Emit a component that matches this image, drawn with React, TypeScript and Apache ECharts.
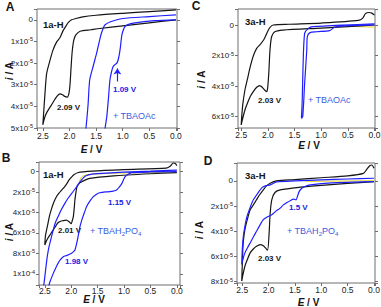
import React, { useEffect, useRef } from "react";
import * as echarts from "echarts";

const FONT = "'Liberation Sans', Arial, Helvetica, sans-serif";

// Potential E (V) vs current in units of 1e-5 A (cathodic current positive, drawn downward)
const aBlack: number[][] = [
  [0, -0.46], [0.5, -0.38], [1.0, -0.3], [1.5, -0.21], [1.75, -0.14], [1.88, -0.06], [1.96, 0.0],
  [2.02, 0.12], [2.07, 0.3], [2.12, 0.5], [2.18, 0.83], [2.24, 1.02], [2.31, 1.4], [2.38, 2.0],
  [2.43, 2.5], [2.46, 3.4], [2.485, 4.3], [2.5, 4.85], [2.47, 4.55], [2.43, 4.3], [2.34, 3.94],
  [2.24, 3.55], [2.18, 3.42], [2.13, 3.46], [2.09, 3.54], [2.04, 3.57], [2.01, 3.4], [1.99, 3.0],
  [1.97, 2.2], [1.95, 1.5], [1.92, 0.95], [1.88, 0.7], [1.8, 0.53], [1.6, 0.46], [1.43, 0.4],
  [1.0, 0.28], [0.5, 0.14], [0, 0.0],
];
const aBlue: number[][] = [
  [0, 0.0], [0.4, 0.04], [0.8, 0.15], [0.9, 0.22], [0.96, 0.31], [1.0, 0.55], [1.02, 0.77],
  [1.05, 1.39], [1.08, 1.8], [1.11, 2.0], [1.15, 2.08], [1.18, 2.16], [1.21, 2.4], [1.24, 2.78],
  [1.27, 3.7], [1.3, 4.5], [1.33, 5.0], [1.35, 6.0],
  [1.74, 6.0], [1.69, 5.0], [1.65, 3.9], [1.62, 2.78], [1.55, 2.1], [1.49, 1.54], [1.43, 0.9],
  [1.4, 0.62], [1.36, 0.35], [1.33, 0.23], [1.24, 0.1], [1.0, -0.06], [0.5, -0.15], [0, -0.23],
];
const aArrow: number[][] = [[1.1, 2.85], [1.1, 2.25]];

const bBlack: number[][] = [
  [0, -0.6], [0.03, -0.8], [0.07, -0.85], [0.12, -0.55], [0.2, -0.35], [1.0, -0.2], [1.6, -0.05],
  [1.88, 0.1], [1.95, 0.3], [1.99, 0.5], [2.04, 0.8], [2.08, 1.14], [2.13, 1.5], [2.18, 1.8],
  [2.23, 2.1], [2.28, 2.45], [2.33, 3.0], [2.37, 3.59], [2.41, 4.3], [2.44, 5.06], [2.47, 5.8],
  [2.49, 6.37], [2.5, 7.19], [2.47, 6.8], [2.44, 6.5], [2.39, 6.1], [2.34, 5.7], [2.29, 5.3],
  [2.25, 5.0], [2.2, 4.85], [2.16, 4.8], [2.09, 4.74], [2.04, 4.9], [2.0, 5.1], [1.98, 4.8],
  [1.96, 4.4], [1.94, 3.4], [1.93, 2.77], [1.89, 1.47], [1.84, 1.1], [1.8, 0.98], [1.65, 0.65],
  [1.2, 0.4], [0.5, 0.2], [0, 0.1],
];
const bBlue: number[][] = [
  [0, -0.16], [0.5, -0.05], [1.0, 0.05], [1.5, 0.18], [1.61, 0.23], [1.72, 0.4], [1.77, 0.6],
  [1.83, 0.98], [1.9, 1.5], [1.99, 2.12], [2.06, 2.6], [2.12, 3.1], [2.19, 3.75], [2.25, 4.41],
  [2.3, 5.0], [2.34, 5.7], [2.38, 6.5], [2.42, 7.35], [2.45, 8.2], [2.47, 8.98], [2.5, 10.3],
  [2.53, 11.6], [2.45, 11.6], [2.41, 10.9], [2.34, 9.96], [2.3, 9.5], [2.25, 8.98], [2.2, 8.6],
  [2.15, 8.33], [2.08, 8.2], [2.02, 8.07], [1.97, 7.9], [1.93, 7.68], [1.9, 7.1], [1.87, 6.37],
  [1.84, 5.5], [1.8, 4.74], [1.75, 4.0], [1.71, 3.43], [1.65, 2.9], [1.58, 2.45], [1.52, 2.2],
  [1.46, 2.06], [1.35, 1.98], [1.27, 1.96], [1.2, 1.9], [1.14, 1.8], [1.09, 1.5], [1.04, 1.14],
  [0.98, 0.49], [0.92, 0.25], [0.86, 0.1], [0.5, 0.03], [0, 0.0],
];
const bYellow: number[][] = [[1.85, 1.0], [1.8, 0.5], [1.7, 0.3], [1.2, 0.15], [0.6, 0.1], [0, 0.05]];

const cBlack: number[][] = [
  [0, -0.65], [0.05, -0.78], [0.1, -0.82], [0.17, -0.75], [0.22, -0.45], [0.3, -0.3], [1.0, -0.13],
  [1.6, -0.05], [1.9, 0.0], [1.96, 0.15], [1.99, 0.33], [2.04, 0.7], [2.08, 0.98], [2.15, 1.3],
  [2.21, 1.53], [2.27, 2.0], [2.33, 2.73], [2.38, 3.5], [2.43, 4.26], [2.47, 5.2], [2.49, 6.0],
  [2.5, 6.55], [2.47, 6.1], [2.43, 5.57], [2.38, 5.1], [2.33, 4.69], [2.27, 4.35], [2.21, 4.08],
  [2.15, 3.97], [2.1, 4.1], [2.06, 4.26], [2.02, 4.37], [2.0, 4.0], [1.98, 3.0], [1.96, 1.64],
  [1.93, 0.77], [1.87, 0.44], [1.72, 0.33], [1.0, 0.2], [0.5, 0.1], [0, 0.0],
];
const cBlue: number[][] = [
  [0, -0.07], [0.6, 0.0], [1.15, 0.11], [1.24, 0.22], [1.31, 0.55], [1.34, 2.73], [1.355, 4.91],
  [1.37, 6.11], [1.345, 6.0], [1.31, 3.82], [1.27, 1.64], [1.26, 0.77], [1.21, 0.5], [1.09, 0.44],
  [0.84, 0.37], [0.75, 0.15], [0.6, 0.07], [0, 0.0],
];
const cYellow: number[][] = [[0.78, 0.1], [0.4, 0.1], [0, 0.14]];

const dBlack: number[][] = [
  [0, -1.0], [0.04, -1.26], [0.08, -1.2], [0.14, -0.9], [0.2, -0.6], [0.5, -0.4], [1.0, -0.25],
  [1.5, -0.1], [1.85, 0.0], [1.97, 0.18], [2.04, 0.4], [2.1, 0.71], [2.17, 1.1], [2.23, 1.5],
  [2.29, 1.9], [2.35, 2.29], [2.4, 3.0], [2.45, 3.87], [2.48, 4.8], [2.49, 5.45], [2.5, 6.7],
  [2.51, 7.95], [2.48, 7.3], [2.45, 6.77], [2.4, 6.2], [2.35, 5.71], [2.29, 5.4], [2.23, 5.19],
  [2.16, 5.06], [2.1, 5.15], [2.06, 5.32], [2.02, 5.5], [1.99, 4.13], [1.97, 2.55], [1.94, 1.5],
  [1.88, 0.92], [1.78, 0.71], [1.4, 0.5], [1.0, 0.35], [0.5, 0.2], [0, 0.05],
];
const dBlue: number[][] = [
  [0, -0.21], [0.5, -0.15], [1.0, -0.08], [1.5, 0.0], [1.85, 0.08], [1.97, 0.32], [2.06, 0.4],
  [2.13, 0.55], [2.2, 0.95], [2.29, 1.5], [2.35, 2.1], [2.41, 2.82], [2.45, 3.6], [2.48, 4.4],
  [2.5, 5.5], [2.51, 6.63], [2.48, 6.1], [2.45, 5.71], [2.4, 5.3], [2.35, 4.92], [2.29, 4.45],
  [2.23, 4.0], [2.17, 3.55], [2.1, 3.08], [2.02, 2.85], [1.94, 2.69], [1.86, 2.4], [1.78, 2.16],
  [1.72, 1.9], [1.65, 1.71], [1.58, 1.55], [1.53, 1.45], [1.48, 1.5], [1.45, 1.2], [1.42, 0.85],
  [1.37, 0.58], [1.3, 0.42], [1.21, 0.32], [0.8, 0.15], [0.4, 0.1], [0, 0.05],
];
const dYellow: number[][] = [[1.3, 0.05], [0.8, 0.02], [0.3, 0.0], [0, -0.02]];

const BLACK = "#151515";
const BLUE = "#1f1fff";
const YELLOW = "#e3d21a";
const LABEL_BLUE = "#3a5ce0";
const FRAME = "#6e6e6e";

type Curve = { data: number[][]; color: string; width: number };
type Panel = {
  grid: { left: number; top: number; width: number; height: number };
  xMin: number; xMax: number; yMin: number; yMax: number; yStep: number; xMargin: number;
  curves: Curve[];
};

const panels: Panel[] = [
  { grid: { left: 37, top: 9, width: 140, height: 119 }, xMin: -0.02, xMax: 2.61, yMin: -0.5, yMax: 5.0, yStep: 1, xMargin: 3,
    curves: [{ data: aBlack, color: BLACK, width: 1.2 }, { data: aBlue, color: BLUE, width: 1.2 }] },
  { grid: { left: 39, top: 162, width: 141, height: 123 }, xMin: -0.06, xMax: 2.61, yMin: -0.95, yMax: 11.1, yStep: 2, xMargin: 1,
    curves: [{ data: bYellow, color: YELLOW, width: 1 }, { data: bBlack, color: BLACK, width: 1.2 }, { data: bBlue, color: BLUE, width: 1.2 }] },
  { grid: { left: 238, top: 9, width: 137, height: 119 }, xMin: -0.01, xMax: 2.56, yMin: -1.05, yMax: 6.75, yStep: 2, xMargin: 2,
    curves: [{ data: cYellow, color: YELLOW, width: 1 }, { data: cBlack, color: BLACK, width: 1.2 }, { data: cBlue, color: BLUE, width: 1.2 }] },
  { grid: { left: 237, top: 163, width: 138, height: 120 }, xMin: -0.02, xMax: 2.6, yMin: -1.42, yMax: 8.1, yStep: 2, xMargin: 2,
    curves: [{ data: dYellow, color: YELLOW, width: 1 }, { data: dBlack, color: BLACK, width: 1.2 }, { data: dBlue, color: BLUE, width: 1.2 }] },
];

const fmtX = (v: number) => {
  const r = v * 2;
  if (Math.abs(r - Math.round(r)) > 1e-6) return "";
  return Math.abs(v) < 1e-9 ? "0.0" : v.toFixed(1);
};
const fmtY = (step: number) => (v: number) => {
  const r = v / step;
  if (Math.abs(r - Math.round(r)) > 1e-6) return "";
  if (Math.abs(v) < 1e-9) return "{m|0}";
  const val = v * 1e-5;
  const exp = Math.floor(Math.log10(val) + 1e-9);
  const mant = Math.round(val / Math.pow(10, exp));
  return `{m|${mant}x10}{s|${exp}}`;
};

const txt = (x: number, y: number, text: string, opts: any = {}) => ({
  type: "text", x, y, silent: true, rotation: opts.rotation || 0,
  style: {
    text,
    fill: opts.fill || BLACK,
    fontSize: opts.fontSize || 9,
    fontWeight: opts.fontWeight || "normal",
    fontFamily: FONT,
    align: opts.align || "left", textAlign: opts.align || "left",
    verticalAlign: "middle", textVerticalAlign: "middle",
    rich: opts.rich,
  },
});

const axisNameRich = {
  i: { fontSize: 10, fontWeight: "bold", fontStyle: "italic", fontFamily: FONT, fill: BLACK, color: BLACK },
  n: { fontSize: 10, fontWeight: "bold", fontFamily: FONT, fill: BLACK, color: BLACK },
};
const saltRich = (fs: number) => ({
  a: { fontSize: fs, fontFamily: FONT, color: LABEL_BLUE, fill: LABEL_BLUE, lineHeight: 12 },
  b: { fontSize: 6, fontFamily: FONT, color: LABEL_BLUE, fill: LABEL_BLUE, verticalAlign: "bottom", lineHeight: 12 },
});

export default function App() {
  const ref = useRef<HTMLDivElement>(null);
  useEffect(() => {
    if (!ref.current) return;
    const chart = echarts.init(ref.current, null, { renderer: "svg" });
    const xAxis: any[] = [];
    const yAxis: any[] = [];
    const grid: any[] = [];
    const series: any[] = [];
    panels.forEach((p, i) => {
      grid.push({
        ...p.grid, show: true, borderColor: FRAME, borderWidth: 1, backgroundColor: "transparent",
        containLabel: false, outerBoundsMode: "none",
      });
      xAxis.push({
        type: "value", gridIndex: i, inverse: true, min: p.xMin, max: p.xMax, position: "bottom",
        axisLine: { show: false, onZero: false }, splitLine: { show: false },
        axisTick: { show: true, length: 3, lineStyle: { color: FRAME } },
        axisLabel: { formatter: fmtX, fontSize: 8.5, color: "#222", fontFamily: FONT, margin: p.xMargin, hideOverlap: false },
      });
      yAxis.push({
        type: "value", gridIndex: i, inverse: true, min: p.yMin, max: p.yMax, position: "left",
        axisLine: { show: false, onZero: false }, splitLine: { show: false },
        axisTick: { show: true, length: 3, lineStyle: { color: FRAME } },
        axisLabel: {
          formatter: fmtY(p.yStep), margin: 4, hideOverlap: false,
          rich: {
            m: { fontSize: 8, color: "#222", fontFamily: FONT, lineHeight: 10 },
            s: { fontSize: 5.5, color: "#222", fontFamily: FONT, verticalAlign: "top", lineHeight: 6 },
          },
        },
      });
      yAxis.push({
        type: "value", gridIndex: i, inverse: true, min: p.yMin, max: p.yMax, position: "right",
        axisLine: { show: false, onZero: false }, splitLine: { show: false }, axisLabel: { show: false },
        axisTick: { show: true, length: 3, lineStyle: { color: FRAME } },
      });
      p.curves.forEach((c) => {
        series.push({
          type: "line", xAxisIndex: i, yAxisIndex: 2 * i, data: c.data, showSymbol: false, symbol: "none",
          smooth: 0.25, clip: true, lineStyle: { color: c.color, width: c.width }, silent: true,
        });
      });
    });
    // arrow in panel A
    series.push({
      type: "line", xAxisIndex: 0, yAxisIndex: 0, data: [], symbol: "none",
      markLine: {
        silent: true, symbol: ["none", "arrow"], symbolSize: 6, label: { show: false },
        lineStyle: { color: BLUE, width: 1.2, type: "solid" },
        data: [[{ coord: aArrow[0] }, { coord: aArrow[1] }]],
      },
    });

    const graphic: any[] = [
      txt(10, 7, "A", { fontSize: 12, fontWeight: "bold", align: "center" }),
      txt(6, 158, "B", { fontSize: 12, fontWeight: "bold", align: "center" }),
      txt(196, 6, "C", { fontSize: 12, fontWeight: "bold", align: "center" }),
      txt(208, 161, "D", { fontSize: 12, fontWeight: "bold", align: "center" }),
      txt(43, 24, "1a-H", { fontSize: 9.5, fontWeight: "bold" }),
      txt(43, 174, "1a-H", { fontSize: 9.5, fontWeight: "bold" }),
      txt(245, 21, "3a-H", { fontSize: 9.5, fontWeight: "bold" }),
      txt(245, 175, "3a-H", { fontSize: 9.5, fontWeight: "bold" }),
      txt(57, 107, "2.09 V", { fontSize: 8, fontWeight: "bold" }),
      txt(113, 89.5, "1.09 V", { fontSize: 8, fontWeight: "bold", fill: "#1a1ae6" }),
      txt(113, 115.5, "+ TBAOAc", { fontSize: 9, fill: LABEL_BLUE }),
      txt(258, 100.5, "2.03 V", { fontSize: 8, fontWeight: "bold" }),
      txt(308, 99.5, "+ TBAOAc", { fontSize: 9, fill: LABEL_BLUE }),
      txt(108, 202, "1.15 V", { fontSize: 8, fontWeight: "bold", fill: "#1a1ae6" }),
      txt(58, 230.5, "2.01 V", { fontSize: 8, fontWeight: "bold" }),
      txt(65, 261, "1.98 V", { fontSize: 8, fontWeight: "bold", fill: "#1a1ae6" }),
      txt(90, 231, "{a|+ TBAH}{b|2}{a|PO}{b|4}", { rich: saltRich(9) }),
      txt(289, 207.5, "1.5 V", { fontSize: 8, fontWeight: "bold", fill: "#1a1ae6" }),
      txt(287, 231, "{a|+ TBAH}{b|2}{a|PO}{b|4}", { rich: saltRich(9) }),
      txt(258, 258, "2.03 V", { fontSize: 8, fontWeight: "bold" }),
      txt(91.5, 149, "{i|E}{n| / V}", { align: "center", rich: axisNameRich }),
      txt(94, 299.5, "{i|E}{n| / V}", { align: "center", rich: axisNameRich }),
      txt(309, 145, "{i|E}{n| / V}", { align: "center", rich: axisNameRich }),
      txt(308.5, 302, "{i|E}{n| / V}", { align: "center", rich: axisNameRich }),
      txt(9, 71, "{i|i}{n| / A}", { align: "center", rich: axisNameRich, rotation: Math.PI / 2 }),
      txt(9, 232, "{i|i}{n| / A}", { align: "center", rich: axisNameRich, rotation: Math.PI / 2 }),
      txt(201, 79.5, "{i|i}{n| / A}", { align: "center", rich: axisNameRich, rotation: Math.PI / 2 }),
      txt(199, 230, "{i|i}{n| / A}", { align: "center", rich: axisNameRich, rotation: Math.PI / 2 }),
    ];

    chart.setOption({
      animation: false,
      backgroundColor: "#ffffff",
      textStyle: { fontFamily: FONT },
      grid, xAxis, yAxis, series, graphic,
    });
    return () => chart.dispose();
  }, []);
  return (
    <div
      ref={ref}
      style={{ position: "fixed", left: 0, top: 0, width: 381, height: 307, background: "#fff" }}
    />
  );
}
